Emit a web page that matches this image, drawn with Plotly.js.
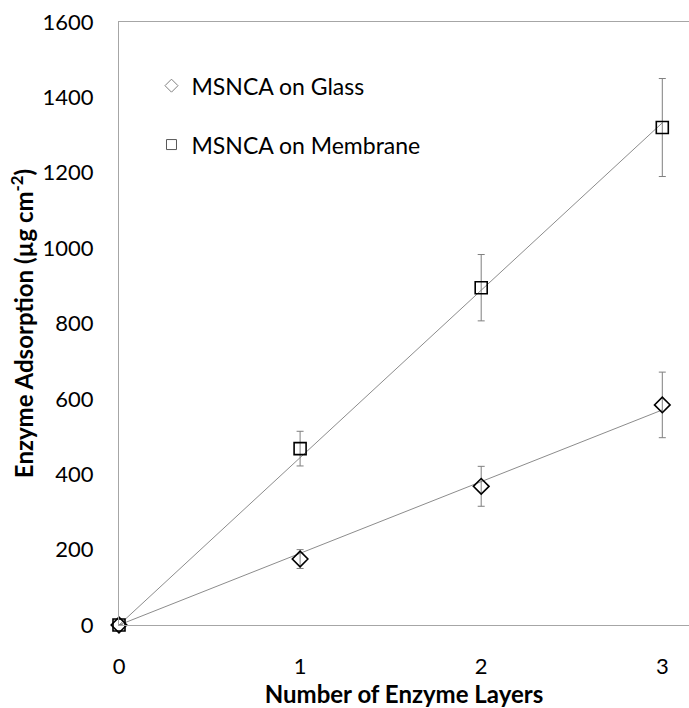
<!DOCTYPE html>
<html>
<head>
<meta charset="utf-8">
<script src="https://cdn.plot.ly/plotly-3.0.1.min.js"></script>
<style>html,body{margin:0;padding:0;background:#fff}#chart{width:689px;height:708px}</style>
</head>
<body>
<div id="chart"></div>
<script>
const layers = [0, 1, 2, 3];
const glassValues = [0, 175, 368, 584];
const glassErrors = [0, 25, 53, 87];
const membraneValues = [0, 468, 895, 1320];
const membraneErrors = [0, 46, 88, 130];
const seriesNames = ['MSNCA on Glass', 'MSNCA on Membrane'];
const yTickVals = [0, 200, 400, 600, 800, 1000, 1200, 1400, 1600];
const xTickVals = [0, 1, 2, 3];

// linear trendline forced through origin (least squares)
function slopeThroughOrigin(xs, ys) {
  let sxy = 0, sxx = 0;
  for (let i = 0; i < xs.length; i++) { sxy += xs[i] * ys[i]; sxx += xs[i] * xs[i]; }
  return sxy / sxx;
}
const xMin = Math.min(...layers), xMax = Math.max(...layers);
const kG = slopeThroughOrigin(layers, glassValues);
const kM = slopeThroughOrigin(layers, membraneValues);

const FONT = 'Lato, "Open Sans", sans-serif';
const lineGray = '#8c8c8c';
const errGray = '#7f7f7f';

const traces = [
  {x: [xMin, xMax], y: [kM * xMin, kM * xMax], mode: 'lines', line: {color: lineGray, width: 1}, showlegend: false, hoverinfo: 'skip'},
  {x: [xMin, xMax], y: [kG * xMin, kG * xMax], mode: 'lines', line: {color: lineGray, width: 1}, showlegend: false, hoverinfo: 'skip'},
  {x: layers, y: membraneValues, mode: 'markers', name: seriesNames[1], showlegend: false, cliponaxis: false,
   marker: {symbol: 'square-open', size: 12, color: '#000', line: {width: 1.6, color: '#000'}},
   error_y: {type: 'data', array: membraneErrors, visible: true, color: errGray, thickness: 1, width: 3.5}},
  {x: layers, y: glassValues, mode: 'markers', name: seriesNames[0], showlegend: false, cliponaxis: false,
   marker: {symbol: 'diamond-open', size: 12, color: '#000', line: {width: 1.6, color: '#000'}},
   error_y: {type: 'data', array: glassErrors, visible: true, color: errGray, thickness: 1, width: 3.5}},
  // legend entries
  {x: [null], y: [null], mode: 'markers', name: seriesNames[0], legendgroup: 'g', showlegend: true,
   marker: {symbol: 'diamond-open', size: 10, color: '#7f7f7f', line: {width: 1, color: '#7f7f7f'}}},
  {x: [null], y: [null], mode: 'markers', name: seriesNames[1], legendgroup: 'm', showlegend: true,
   marker: {symbol: 'square-open', size: 10, color: '#595959', line: {width: 1, color: '#595959'}}}
];

const plotLeft = 119, plotRight = 689;
const pxPerUnit = (662 - 118.7) / 3;
const xRangeMax = (plotRight - plotLeft) / pxPerUnit;

const layout = {
  width: 689, height: 708,
  margin: {l: plotLeft, r: 0, t: 22, b: 83},
  paper_bgcolor: '#fff', plot_bgcolor: '#fff',
  font: {family: FONT, color: '#000', size: 22},
  showlegend: true,
  legend: {x: 0.057, y: 0.930, xanchor: 'left', yanchor: 'top', bgcolor: 'rgba(0,0,0,0)',
           font: {family: FONT, size: 23, color: '#000'}, traceorder: 'grouped', tracegroupgap: 26, itemwidth: 30},
  xaxis: {range: [0, xRangeMax], tickvals: xTickVals, ticktext: xTickVals.map(String),
          showgrid: false, zeroline: false, showline: true, mirror: true, linecolor: '#a6a6a6', linewidth: 1,
          ticks: '', ticklabelstandoff: 22, tickfont: {family: FONT, size: 22},
          title: {text: '<b>Number of Enzyme Layers</b>', font: {family: FONT, size: 24}, standoff: 12}},
  yaxis: {range: [0, 1600], tickvals: yTickVals, ticktext: yTickVals.map(String),
          showgrid: false, zeroline: false, showline: true, mirror: false, linecolor: '#a6a6a6', linewidth: 1,
          ticks: '', ticklabelstandoff: 20, tickfont: {family: FONT, size: 22},
          title: {text: '<b>Enzyme Adsorption (µg cm<sup>-2</sup>)</b>', font: {family: FONT, size: 24}, standoff: 2}}
};

Plotly.newPlot('chart', traces, layout, {displayModeBar: false, staticPlot: true});
</script>
</body>
</html>
